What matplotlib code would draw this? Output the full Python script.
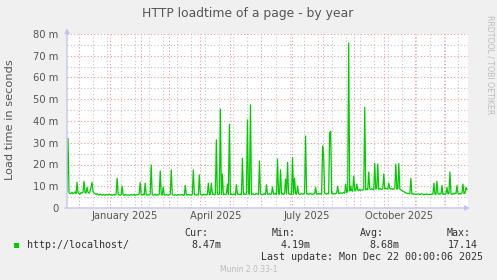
import matplotlib
matplotlib.use("Agg")
import matplotlib.pyplot as plt
import matplotlib.dates as mdates
import pandas as pd

# daily load time in milliseconds, starting at start_day
start_day = "2024-11-19"
load_ms = [
    7.5, 32.0, 7.0, 6.6, 6.8, 7.2, 6.5, 6.9, 7.4, 6.7,
    11.8, 7.0, 6.6, 6.4, 7.1, 6.8, 7.3, 12.3, 7.0, 6.9,
    9.5, 7.2, 6.8, 7.6, 9.8, 11.8, 7.4, 6.9, 6.5, 6.3,
    6.6, 6.2, 6.0, 6.4, 6.1, 5.9, 6.3, 6.0, 5.8, 6.2,
    6.1, 5.9, 6.4, 6.0, 6.2, 5.8, 6.1, 6.3, 5.9, 6.4,
    13.7, 6.3, 6.0, 5.9, 6.1, 10.0, 6.0, 5.8, 6.2, 6.0,
    5.9, 6.1, 5.8, 6.0, 6.2, 5.9, 6.0, 6.3, 5.8, 6.1,
    6.0, 6.2, 6.4, 11.8, 6.1, 5.9, 6.3, 6.0, 11.4, 6.2,
    5.9, 6.1, 6.0, 6.4, 19.8, 6.2, 5.9, 6.0, 6.3, 5.8,
    6.1, 6.0, 6.2, 17.0, 6.3, 6.0, 9.7, 6.1, 5.9, 6.2,
    6.0, 5.8, 6.1, 6.3, 17.5, 6.2, 5.9, 6.0, 6.1, 5.8,
    6.0, 6.2, 5.9, 6.1, 6.0, 6.3, 5.8, 6.0, 10.4, 6.1,
    5.9, 6.2, 6.0, 6.1, 5.8, 6.3, 17.5, 6.2, 6.0, 5.9,
    6.1, 6.0, 15.2, 6.3, 6.0, 5.9, 6.2, 6.1, 6.4, 6.0,
    6.2, 11.4, 6.1, 6.3, 11.4, 6.2, 6.5, 6.0, 6.3, 31.3,
    6.4, 6.2, 6.6, 45.5, 6.3, 15.6, 6.1, 6.4, 6.2, 6.5,
    11.0, 6.3, 38.5, 6.2, 6.5, 6.1, 6.4, 6.3, 6.0, 10.7,
    6.3, 6.5, 6.2, 6.4, 6.1, 22.9, 6.3, 6.5, 6.2, 6.4,
    40.5, 6.6, 6.3, 47.4, 6.2, 6.5, 6.4, 6.1, 6.3, 6.6,
    6.4, 6.2, 21.6, 6.5, 6.3, 6.1, 6.4, 6.6, 6.2, 10.7,
    6.4, 6.3, 6.6, 6.2, 6.5, 9.7, 6.3, 6.4, 6.6, 6.2,
    22.5, 6.5, 6.3, 17.5, 6.4, 6.6, 6.2, 6.5, 13.3, 6.4,
    21.0, 6.6, 6.3, 6.5, 6.2, 23.1, 6.4, 13.7, 6.6, 6.3,
    10.0, 6.5, 6.2, 6.4, 6.6, 6.3, 6.5, 6.8, 33.1, 6.4,
    6.6, 6.3, 6.5, 6.7, 6.4, 6.2, 6.6, 6.5, 9.5, 6.3,
    6.5, 6.7, 6.4, 6.6, 6.3, 28.5, 24.0, 6.8, 6.5, 6.4,
    6.7, 6.5, 34.6, 35.2, 6.6, 6.8, 6.4, 6.7, 6.5, 6.9,
    10.0, 6.6, 6.8, 7.0, 6.7, 6.9, 7.2, 6.8, 11.0, 7.1,
    7.6, 75.9, 7.8, 10.0, 8.0, 7.7, 14.7, 8.2, 7.9, 11.0,
    8.3, 8.0, 8.5, 8.1, 8.4, 8.2, 8.6, 46.3, 8.3, 8.7,
    8.4, 16.6, 8.8, 8.5, 8.9, 8.6, 8.3, 20.5, 8.7, 8.9,
    20.2, 8.6, 9.0, 8.8, 8.5, 8.9, 15.6, 8.7, 9.1, 8.8,
    8.6, 11.4, 9.0, 8.7, 8.9, 8.5, 8.8, 9.2, 20.2, 8.7,
    8.9, 20.5, 8.6, 8.4, 8.1, 7.8, 7.5, 7.2, 7.0, 6.8,
    6.6, 6.7, 6.5, 13.7, 6.4, 6.6, 6.3, 6.5, 6.2, 6.4,
    6.3, 6.5, 6.2, 6.4, 6.6, 6.3, 6.1, 6.4, 6.2, 6.5,
    6.3, 6.1, 6.4, 6.2, 6.5, 6.3, 11.4, 6.4, 6.2, 12.3,
    6.5, 6.3, 6.6, 6.4, 10.4, 6.2, 6.5, 6.3, 6.6, 9.5,
    6.4, 6.7, 16.6, 6.5, 6.3, 6.6, 6.4, 6.8, 6.5, 10.4,
    6.6, 6.4, 6.7, 6.5, 6.9, 11.0, 6.6, 6.8, 9.5, 8.47,
]
x_end = "2025-12-24"

month_labels = ["January 2025", "April 2025", "July 2025", "October 2025"]
label_days = ["2025-01-16", "2025-04-16", "2025-07-16", "2025-10-16"]
y_ticks = [0, 10, 20, 30, 40, 50, 60, 70, 80]
y_tick_labels = ["0", "10 m", "20 m", "30 m", "40 m", "50 m", "60 m", "70 m", "80 m"]

legend_name = "http://localhost/"
legend_heads = ["Cur:", "Min:", "Avg:", "Max:"]
legend_vals = ["8.47m", "4.19m", "8.68m", "17.14"]

W, H = 497, 280
BG = "#F0F0F0"
TXT = "#555555"
AXC = "#C4C4F0"


def px(x, y):
    return x / W, 1 - y / H


fig = plt.figure(figsize=(W / 100, H / 100), dpi=100, facecolor=BG)
ax = fig.add_axes([67 / W, 72 / H, 401 / W, 174 / H])
ax.set_facecolor("white")

days = pd.date_range(start_day, periods=len(load_ms), freq="D")
ax.plot(days, load_ms, color="#00CC00", lw=0.9, zorder=3)

ax.set_xlim(pd.Timestamp(start_day), pd.Timestamp(x_end))
ax.set_ylim(0, 80)

# grid: red on months / tens, grey on two-week sundays / fives
ax.xaxis.set_major_locator(mdates.MonthLocator())
ax.xaxis.set_minor_locator(mdates.WeekdayLocator(byweekday=mdates.SU, interval=2))
ax.set_yticks(y_ticks)
ax.set_yticks([5, 15, 25, 35, 45, 55, 65, 75], minor=True)
ax.grid(which="major", color="#EE9C9C", lw=0.8, ls=(0, (1, 2)), zorder=1)
ax.grid(which="minor", color="#C4C4C4", lw=0.8, ls=(0, (1, 2)), zorder=0)
ax.set_axisbelow(True)

ax.set_xticklabels([])
ax.set_yticklabels(y_tick_labels)
ax.tick_params(axis="x", which="both", length=0)
ax.tick_params(axis="y", which="both", length=0, pad=6, labelsize=7.2, labelcolor=TXT)
for s in ax.spines.values():
    s.set_visible(False)

# month labels under the axis
for d, lab in zip(label_days, month_labels):
    ax.text(pd.Timestamp(d), -0.045, lab, transform=ax.get_xaxis_transform(),
            ha="center", va="center", fontsize=7.2, color=TXT)

# axis arrows
ax.annotate("", xy=(0, 1.05), xytext=(0, -0.01), xycoords="axes fraction",
            arrowprops=dict(arrowstyle="-|>", color=AXC, lw=1, mutation_scale=7),
            annotation_clip=False)
ax.annotate("", xy=(1.012, 0), xytext=(-0.012, 0), xycoords="axes fraction",
            arrowprops=dict(arrowstyle="-|>", color=AXC, lw=1, mutation_scale=7),
            annotation_clip=False)

fig.text(*px(248, 13), "HTTP loadtime of a page - by year", ha="center", va="center",
         fontsize=8.9, color=TXT)
fig.text(*px(10.5, 120), "Load time in seconds", ha="center", va="center",
         rotation=90, fontsize=8.2, color=TXT)
fig.text(*px(490, 15), "RRDTOOL / TOBI OETIKER", ha="center", va="top",
         rotation=270, fontsize=5.6, color="#BBBBBB")

# legend
fig.patches.append(plt.Rectangle(px(14, 248), 5 / W, 5 / H, transform=fig.transFigure,
                                 facecolor="#00CC00", edgecolor="none"))
mono = "DejaVu Sans Mono"
fig.text(*px(27, 245.5), legend_name, ha="left", va="center", family=mono,
         fontsize=7.2, color="#333333")
head_x = [196, 284, 372, 459]
val_x = [206, 296, 384, 463]
for hx, vx, h, v in zip(head_x, val_x, legend_heads, legend_vals):
    fig.text(*px(hx, 233.5), h, ha="center", va="center", family=mono, fontsize=7.2, color="#333333")
    fig.text(*px(vx, 245.5), v, ha="center", va="center", family=mono, fontsize=7.2, color="#333333")
fig.text(*px(483, 257.5), "Last update: Mon Dec 22 00:00:06 2025", ha="right", va="center",
         family=mono, fontsize=7.2, color="#333333")
fig.text(*px(249, 269.5), "Munin 2.0.33-1", ha="center", va="center", fontsize=5.5,
         color="#BBBBBB")

fig.savefig("out.png", dpi=100, facecolor=BG)
